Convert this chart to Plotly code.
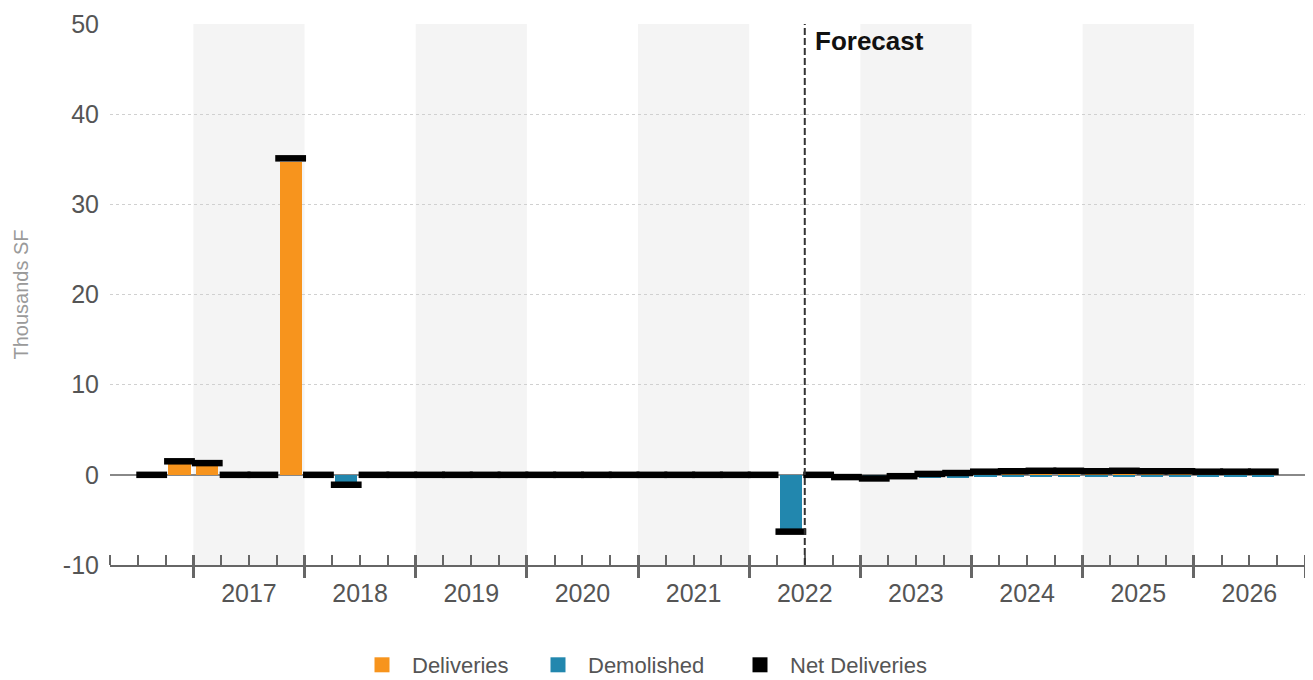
import plotly.graph_objects as go

# quarterly data, thousands SF
periods = ["2016 Q3", "2016 Q4",
           "2017 Q1", "2017 Q2", "2017 Q3", "2017 Q4",
           "2018 Q1", "2018 Q2", "2018 Q3", "2018 Q4",
           "2019 Q1", "2019 Q2", "2019 Q3", "2019 Q4",
           "2020 Q1", "2020 Q2", "2020 Q3", "2020 Q4",
           "2021 Q1", "2021 Q2", "2021 Q3", "2021 Q4",
           "2022 Q1", "2022 Q2", "2022 Q3", "2022 Q4",
           "2023 Q1", "2023 Q2", "2023 Q3", "2023 Q4",
           "2024 Q1", "2024 Q2", "2024 Q3", "2024 Q4",
           "2025 Q1", "2025 Q2", "2025 Q3", "2025 Q4",
           "2026 Q1", "2026 Q2", "2026 Q3"]

deliveries = [0, 1.2,
              1.0, 0, 0, 34.7,
              0, 0, 0, 0,
              0, 0, 0, 0,
              0, 0, 0, 0,
              0, 0, 0, 0,
              0, 0, 0, 0,
              0, 0.1, 0.4, 0.5,
              0.6, 0.65, 0.7, 0.7,
              0.65, 0.7, 0.65, 0.65,
              0.6, 0.6, 0.6]

demolished = [0, 0,
              0, 0, 0, 0,
              0, -0.8, 0, 0,
              0, 0, 0, 0,
              0, 0, 0, 0,
              0, 0, 0, 0,
              0, -6.0, 0, -0.25,
              -0.4, -0.25, -0.3, -0.3,
              -0.25, -0.25, -0.25, -0.25,
              -0.25, -0.25, -0.25, -0.25,
              -0.25, -0.25, -0.25]

net_deliveries = [0, 1.5,
                  1.3, 0, 0, 35.1,
                  0, -1.1, 0, 0,
                  0, 0, 0, 0,
                  0, 0, 0, 0,
                  0, 0, 0, 0,
                  0, -6.3, 0, -0.25,
                  -0.4, -0.15, 0.1, 0.2,
                  0.35, 0.4, 0.45, 0.45,
                  0.4, 0.45, 0.4, 0.4,
                  0.35, 0.35, 0.35]

year_labels = ["2017", "2018", "2019", "2020", "2021",
               "2022", "2023", "2024", "2025", "2026"]
shaded_years = ["2017", "2019", "2021", "2023", "2025"]
forecast_start = "2022 Q3"
y_ticks = [-10, 0, 10, 20, 30, 40, 50]
y_tick_text = ["-10", "0", "10", "20", "30", "40", "50"]


def qpos(p):
    y, q = p.split(" Q")
    return int(y) + (int(q) - 0.5) / 4


x = [qpos(p) for p in periods]
years = [int(y) for y in year_labels]
bounds = years + [years[-1] + 1]
x_range = [qpos(periods[0]) - 0.375, bounds[-1]]
fc_x = qpos(forecast_start) - 0.125

ORANGE = "#f7941d"
BLUE = "#2287ae"
AXIS = "#666666"
TXT = "#555555"
FONT = "Liberation Sans, Arial, sans-serif"
W, H = 1297, 680

fig = go.Figure()
fig.add_trace(go.Bar(x=x, y=deliveries, width=0.2, marker_color=ORANGE,
                     marker_line_width=0, name="Deliveries", showlegend=False))
fig.add_trace(go.Bar(x=x, y=demolished, width=0.2, marker_color=BLUE,
                     marker_line_width=0, name="Demolished", showlegend=False))
fig.add_trace(go.Scatter(x=x, y=net_deliveries, mode="markers", name="Net Deliveries",
                         marker=dict(symbol="line-ew", size=22,
                                     line=dict(width=6.5, color="black")),
                         showlegend=False))

# legend entries (square swatches), one legend box each
legend_items = [("Deliveries", ORANGE, "legend", 344),
                ("Demolished", BLUE, "legend2", 520),
                ("Net Deliveries", "black", "legend3", 722)]
for nm, col, lg, _ in legend_items:
    fig.add_trace(go.Scatter(x=[None], y=[None], mode="markers", name=nm, legend=lg,
                             marker=dict(symbol="square", size=15, color=col)))

for yr in shaded_years:
    fig.add_shape(type="rect", xref="x", yref="paper", x0=int(yr), x1=int(yr) + 1,
                  y0=0, y1=1, fillcolor="#f4f4f4", line_width=0, layer="below")

fig.add_shape(type="line", xref="x", yref="paper", x0=fc_x, x1=fc_x, y0=0, y1=1,
              line=dict(color="#333333", width=2, dash="7px,3px"))
fig.add_annotation(text="<b>Forecast</b>", xref="x", yref="paper", x=fc_x, y=1,
                   xanchor="left", yanchor="top", xshift=8, yshift=0, showarrow=False,
                   font=dict(size=26, color="#111111", family=FONT))

legend_style = dict(orientation="h", xref="container", yref="container",
                    xanchor="left", y=23 / H, yanchor="middle", itemwidth=50,
                    font=dict(size=22, color=TXT), itemclick=False,
                    bgcolor="rgba(0,0,0,0)")

fig.update_layout(
    width=W, height=H,
    margin=dict(l=102, r=0, t=16, b=H - 16 - 541),
    paper_bgcolor="white", plot_bgcolor="white",
    barmode="overlay", bargap=0,
    font=dict(family=FONT, color=TXT),
    legend=dict(legend_style, x=legend_items[0][3] / W),
    legend2=dict(legend_style, x=legend_items[1][3] / W),
    legend3=dict(legend_style, x=legend_items[2][3] / W),
    xaxis=dict(range=x_range, tickvals=bounds, ticks="outside", ticklen=11,
               tickwidth=2.5, tickcolor=AXIS, showticklabels=False,
               showline=True, linecolor=AXIS, linewidth=2, showgrid=False,
               zeroline=False, automargin=False,
               minor=dict(ticks="inside", tick0=bounds[0], dtick=0.25, ticklen=10,
                          tickwidth=1.5, tickcolor=AXIS, showgrid=False)),
    xaxis2=dict(overlaying="x", anchor="y", side="bottom", range=x_range,
                tickvals=bounds, ticks="inside", ticklen=10, tickwidth=2.5,
                tickcolor=AXIS, showticklabels=False, showgrid=False,
                showline=False, zeroline=False, automargin=False),
    xaxis3=dict(overlaying="x", anchor="y", side="bottom", range=x_range,
                tickvals=[y + 0.5 for y in years], ticktext=year_labels, ticks="",
                ticklabelstandoff=11, tickfont=dict(size=25, color=TXT),
                showgrid=False, showline=False, zeroline=False, automargin=False),
    yaxis=dict(range=[-10, 50], tickvals=y_ticks, ticktext=y_tick_text,
               showgrid=True, gridcolor="#d0d0d0",
               griddash="dot", gridwidth=1, zeroline=True, zerolinecolor="#888888",
               zerolinewidth=2, ticks="", ticklabelstandoff=10, automargin=False,
               tickfont=dict(size=25, color=TXT),
               title=dict(text="Thousands SF", font=dict(size=20, color="#9a9a9a"),
                          standoff=28)),
)

# dummy traces to make the extra axes render
fig.add_trace(go.Scatter(x=[None], y=[None], xaxis="x2", showlegend=False, hoverinfo="skip"))
fig.add_trace(go.Scatter(x=[None], y=[None], xaxis="x3", showlegend=False, hoverinfo="skip"))

fig.write_html("out.html")
